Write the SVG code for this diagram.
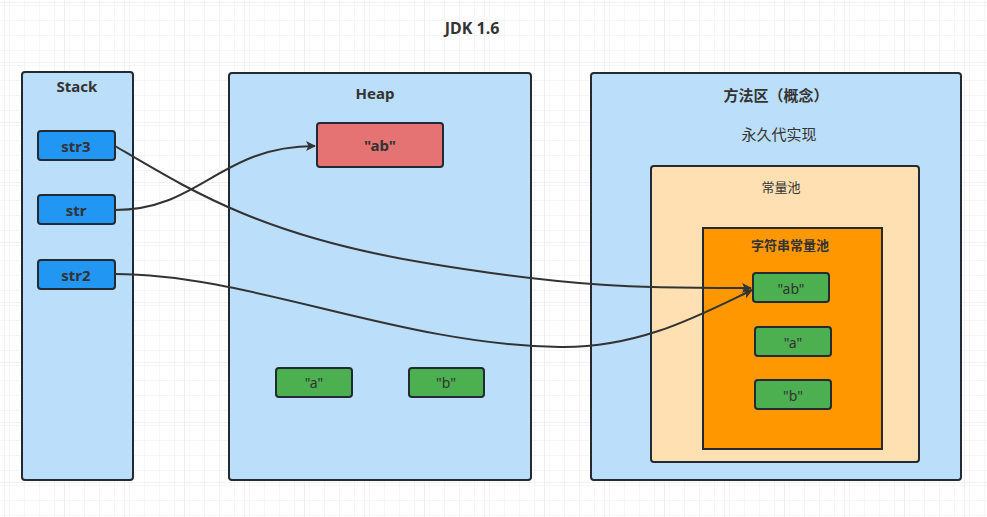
<svg xmlns="http://www.w3.org/2000/svg" width="987" height="517" viewBox="0 0 987 517">
<defs>
<pattern id="minor" x="5" y="3" width="15" height="15" patternUnits="userSpaceOnUse">
<path d="M15 0V15M0 15H15" fill="none" stroke="#ececec" stroke-width="1"/>
</pattern>
<pattern id="major" x="5" y="3" width="60" height="60" patternUnits="userSpaceOnUse">
<rect width="60" height="60" fill="url(#minor)"/>
<path d="M60 0V60M0 60H60" fill="none" stroke="#e2e2e2" stroke-width="1"/>
</pattern>
<marker id="arr" markerWidth="10" markerHeight="10" refX="9" refY="5" orient="auto" markerUnits="userSpaceOnUse" viewBox="0 0 10 10">
<path d="M0,0 L10,5 L0,10 L2.5,5 Z" fill="#333"/>
</marker>
<style>
.box{stroke:#232a31;stroke-width:2}
.area{fill:#bbdefb}
.var{fill:#2196f3}
.grn{fill:#4caf50}
.t{font-family:"Noto Sans","Noto Sans CJK SC",sans-serif;fill:#333;text-anchor:middle;dominant-baseline:central}
.b{font-weight:bold}
.conn{fill:none;stroke:#333;stroke-width:2}
</style>
</defs>
<rect width="987" height="517" fill="#fff"/>
<rect width="987" height="517" fill="url(#major)"/>
<text class="t b" x="472" y="28" font-size="16">JDK 1.6</text>

<g id="stack">
<rect class="box area" x="22" y="72" width="111" height="408" rx="3"/>
<text class="t b" x="77" y="86" font-size="15">Stack</text>
</g>
<g id="str3">
<rect class="box var" x="38" y="131" width="77" height="29" rx="3"/>
<text class="t b" x="76" y="146" font-size="15">str3</text>
</g>
<g id="str">
<rect class="box var" x="38" y="195" width="77" height="29" rx="3"/>
<text class="t b" x="76" y="210" font-size="15">str</text>
</g>
<g id="str2">
<rect class="box var" x="38" y="260" width="77" height="29" rx="3"/>
<text class="t b" x="76" y="275" font-size="15">str2</text>
</g>

<g id="heap">
<rect class="box area" x="229" y="73" width="302" height="407" rx="3"/>
<text class="t b" x="375" y="93" font-size="15">Heap</text>
</g>
<g id="heap-ab">
<rect class="box" fill="#e57373" x="317" y="123" width="126" height="44" rx="3"/>
<text class="t b" x="380" y="145" font-size="15">"ab"</text>
</g>
<g id="heap-a">
<rect class="box grn" x="276" y="368" width="76" height="29" rx="3"/>
<text class="t" x="314" y="382" font-size="14">"a"</text>
</g>
<g id="heap-b">
<rect class="box grn" x="409" y="368" width="75" height="29" rx="3"/>
<text class="t" x="446" y="382" font-size="14">"b"</text>
</g>

<g id="method-area">
<rect class="box area" x="591" y="73" width="370" height="407" rx="3"/>
<text class="t b" x="776" y="95" font-size="15">方法区（概念）</text>
<text class="t" x="779" y="134" font-size="15">永久代实现</text>
</g>
<g id="constant-pool">
<rect class="box" fill="#ffe0b2" x="651" y="166" width="268" height="296" rx="3"/>
<text class="t" x="781" y="187" font-size="13">常量池</text>
</g>
<g id="string-pool">
<rect class="box" fill="#ff9800" x="703" y="228" width="179" height="221"/>
<text class="t b" x="790" y="245" font-size="13">字符串常量池</text>
</g>
<g id="pool-ab">
<rect class="box grn" x="753" y="273" width="76" height="29" rx="3"/>
<text class="t" x="791" y="288" font-size="14">"ab"</text>
</g>
<g id="pool-a">
<rect class="box grn" x="755" y="327" width="76" height="29" rx="3"/>
<text class="t" x="793" y="342" font-size="14">"a"</text>
</g>
<g id="pool-b">
<rect class="box grn" x="755" y="380" width="76" height="29" rx="3"/>
<text class="t" x="793" y="395" font-size="14">"b"</text>
</g>

<g id="connectors">
<path class="conn" marker-end="url(#arr)" d="M115,210 C200,210 220,146 315,146"/>
<path class="conn" marker-end="url(#arr)" d="M115,146 C190,190 260,235 420,262 S650,288 751,288"/>
<path class="conn" marker-end="url(#arr)" d="M115,274 C250,274 400,345 560,347 C640,348 700,315 752,290"/>
</g>
</svg>
